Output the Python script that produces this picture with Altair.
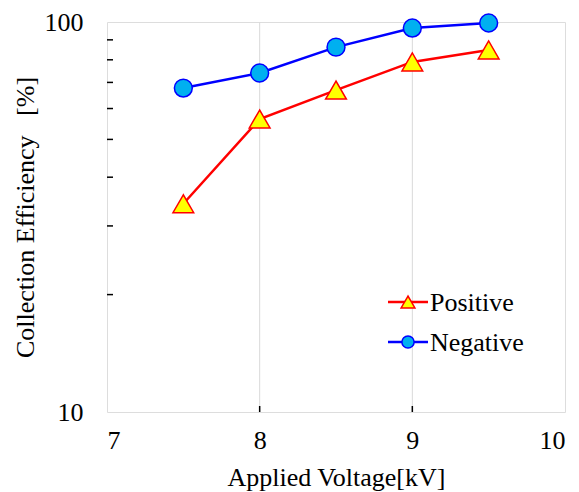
import altair as alt
import pandas as pd

# ---- data ----
x_vals = [7.5, 8.0, 8.5, 9.0, 9.5]
positive = [34.2, 56.4, 66.9, 79.0, 84.8]
negative = [67.7, 74.0, 86.2, 96.5, 99.4]
series_names = ["Positive", "Negative"]
grid_x = [8, 9]
minor_y = [20, 30, 40, 50, 60, 70, 80, 90]
x_ticks = [7, 8, 9, 10]
y_labels = [10, 100]

FONT = "Liberation Serif, Times New Roman, Times, serif"
W, H = 458, 390

df = pd.DataFrame({
    "x": x_vals * 2,
    "y": positive + negative,
    "series": [series_names[0]] * len(x_vals) + [series_names[1]] * len(x_vals),
})
df_grid = pd.DataFrame({"x": grid_x})
df_minor = pd.DataFrame({"y": minor_y})

xscale = alt.Scale(domain=[7, 10], nice=False, zero=False)
yscale = alt.Scale(type="log", domain=[10, 100], nice=False)

X = alt.X("x:Q", scale=xscale,
          axis=alt.Axis(values=x_ticks, title="Applied Voltage[kV]", grid=False,
                        ticks=False, tickSize=0, domain=False, labelPadding=15,
                        labelFontSize=26, titleFontSize=26, titleY=73,
                        titleBaseline="alphabetic", titleFontWeight="normal",
                        format="d", labelFont=FONT, titleFont=FONT,
                        labelColor="black", titleColor="black"))
Y = alt.Y("y:Q", scale=yscale,
          axis=alt.Axis(values=y_labels, title="Collection\u00a0Efficiency\u00a0\u00a0\u00a0[%]",
                        grid=False, ticks=False, tickSize=0, domain=False,
                        labelPadding=24, labelFontSize=26, titleFontSize=26,
                        titleFontWeight="normal", format="d", labelFont=FONT,
                        titleFont=FONT, titleX=-82, titleY=H / 2,
                        titleBaseline="middle", titleAlign="center",
                        labelColor="black", titleColor="black"))

grid = alt.Chart(df_grid).mark_rule(color="#d9d9d9", strokeWidth=1).encode(
    x=X, y=alt.value(0), y2=alt.value(H))
xtick = alt.Chart(df_grid).mark_rule(color="black", strokeWidth=1.5).encode(
    x=X, y=alt.value(H), y2=alt.value(H - 6))
ytick = alt.Chart(df_minor).mark_rule(color="black", strokeWidth=1.5).encode(
    y=Y, x=alt.value(0), x2=alt.value(6))

pos = alt.Chart(df).transform_filter(alt.datum.series == "Positive")
neg = alt.Chart(df).transform_filter(alt.datum.series == "Negative")

pos_line = pos.mark_line(color="#ff0000", strokeWidth=2.5).encode(x=X, y=Y)
neg_line = neg.mark_line(color="#0000ff", strokeWidth=2.5).encode(x=X, y=Y)
pos_pt = pos.mark_point(shape="triangle-up", filled=True, fill="#ffff00", stroke="#ff0000",
                        strokeWidth=1.5, opacity=1, size=430).encode(x=X, y=Y)
neg_pt = neg.mark_point(shape="circle", filled=True, fill="#00b0f0", stroke="#0000ff",
                        strokeWidth=1.5, opacity=1, size=320).encode(x=X, y=Y)

# ---- manual legend ----
leg = alt.Chart(pd.DataFrame({"k": [0]}))
ly1, ly2 = 280, 320
lx0, lx1, lxm, ltx = 281, 321, 301, 323
leg_layers = [
    leg.mark_rule(color="#ff0000", strokeWidth=2.5).encode(x=alt.value(lx0), x2=alt.value(lx1), y=alt.value(ly1)),
    leg.mark_point(shape="triangle-up", filled=True, fill="#ffff00", stroke="#ff0000",
                   strokeWidth=1.5, opacity=1, size=190).encode(x=alt.value(lxm), y=alt.value(ly1)),
    leg.mark_text(align="left", baseline="middle", font=FONT, fontSize=26, color="black").encode(
        x=alt.value(ltx), y=alt.value(ly1 + 1), text=alt.value(series_names[0])),
    leg.mark_rule(color="#0000ff", strokeWidth=2.5).encode(x=alt.value(lx0), x2=alt.value(lx1), y=alt.value(ly2)),
    leg.mark_point(shape="circle", filled=True, fill="#00b0f0", stroke="#0000ff",
                   strokeWidth=1.5, opacity=1, size=150).encode(x=alt.value(lxm), y=alt.value(ly2)),
    leg.mark_text(align="left", baseline="middle", font=FONT, fontSize=26, color="black").encode(
        x=alt.value(ltx), y=alt.value(ly2 + 1), text=alt.value(series_names[1])),
]

chart = alt.layer(grid, xtick, ytick, pos_line, neg_line, pos_pt, neg_pt, *leg_layers).properties(
    width=W, height=H,
    autosize=alt.AutoSizeParams(type="none"),
    padding={"left": 99, "top": 14, "right": 6, "bottom": 80},
).configure_view(stroke="black", strokeWidth=1.8).configure(background="white")

chart.save("out.html", embed_options={"renderer": "svg", "actions": False})
